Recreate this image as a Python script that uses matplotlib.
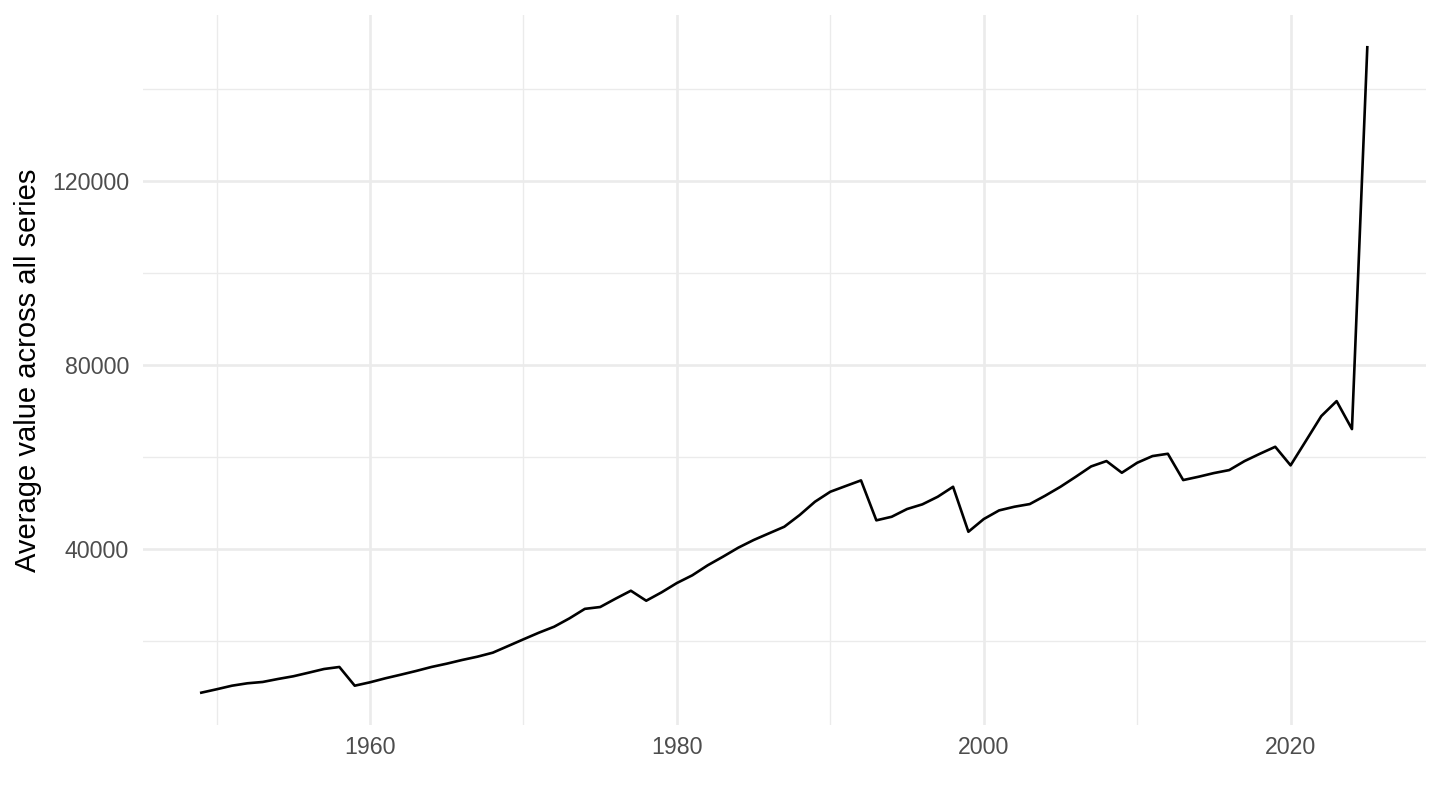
import matplotlib
matplotlib.use("Agg")
import matplotlib.pyplot as plt
import numpy as np

years = list(range(1949, 2026))
avg_value = [
    8760, 9500, 10280, 10800, 11090, 11740, 12330, 13110, 13910, 14350,
    10280, 11020, 11890, 12670, 13480, 14350, 15070, 15870, 16590, 17460,
    18910, 20370, 21800, 23110, 24930, 26990, 27390, 29200, 30930, 28760,
    30580, 32610, 34280, 36450, 38330, 40290, 41960, 43410, 44850, 47390,
    50290, 52460, 53700, 54930, 46240, 47020, 48700, 49720, 51370, 53540,
    43760, 46520, 48400, 49200, 49780, 51590, 53540, 55720, 57970, 59130,
    56590, 58760, 60220, 60720, 55000, 55720, 56520, 57170, 59130, 60720,
    62240, 58200, 63540, 68910, 72170, 66090, 149130,
]

x_major = [1960, 1980, 2000, 2020]
x_minor = [1950, 1970, 1990, 2010]
y_major = [40000, 80000, 120000]
y_minor = [20000, 60000, 100000, 140000]

plt.rcParams['font.family'] = ['Liberation Sans', 'DejaVu Sans']

fig = plt.figure(figsize=(14.4, 8.1), dpi=100)
ax = fig.add_axes([0.0993, 0.105, 0.8907, 0.8765])

ax.plot(years, avg_value, color='black', linewidth=1.9, zorder=3)

span = max(years) - min(years)
ax.set_xlim(min(years) - 0.05 * span, max(years) + 0.05 * span)
yspan = max(avg_value) - min(avg_value)
ax.set_ylim(min(avg_value) - 0.05 * yspan, max(avg_value) + 0.05 * yspan)

ax.set_xticks(x_major)
ax.set_xticks(x_minor, minor=True)
ax.set_yticks(y_major)
ax.set_yticks(y_minor, minor=True)
ax.set_yticklabels([str(v) for v in y_major])

ax.grid(which='major', color='#EBEBEB', linewidth=1.9)
ax.grid(which='minor', color='#EBEBEB', linewidth=0.95)
ax.set_axisbelow(True)
for s in ax.spines.values():
    s.set_visible(False)

ax.tick_params(which='both', length=0)
ax.tick_params(axis='both', labelsize=16.7, labelcolor='#4D4D4D')
ax.tick_params(axis='x', pad=8)
ax.tick_params(axis='y', pad=10)

ax.set_ylabel('Average value across all series', fontsize=21, color='black', labelpad=7)

fig.savefig('out.png', dpi=100)
plt.close(fig)
